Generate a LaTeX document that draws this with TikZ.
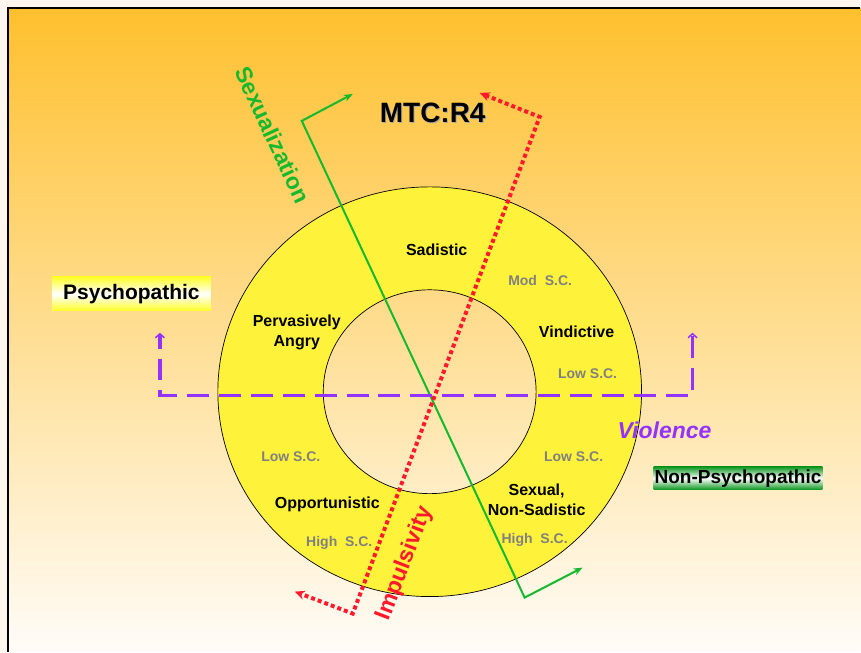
\documentclass[tikz,border=0pt]{standalone}
\usepackage{fontspec}
\setmainfont{Liberation Sans}
\usetikzlibrary{positioning,arrows.meta}

\definecolor{pagebg}{RGB}{253,245,238}
\definecolor{bgtop}{RGB}{255,192,46}
\definecolor{bgbot}{RGB}{255,252,248}
\definecolor{ringyellow}{RGB}{255,242,58}
\definecolor{boxyellow}{RGB}{255,255,40}
\definecolor{boxgreen}{RGB}{10,150,30}
\definecolor{sexgreen}{RGB}{20,185,45}
\definecolor{impred}{RGB}{255,25,45}
\definecolor{violet}{RGB}{150,50,255}
\definecolor{scgray}{RGB}{128,128,128}

\begin{document}
\begin{tikzpicture}[x=1pt, y=-1pt,
  lbl/.style={font=\bfseries\fontsize{16}{20}\selectfont, align=center, inner sep=0pt},
  sc/.style={font=\bfseries\fontsize{14}{16}\selectfont, text=scgray, inner sep=0pt},
  tag/.style={font=\bfseries\fontsize{21}{24}\selectfont, inner sep=0pt},
  axlbl/.style={font=\bfseries\fontsize{23}{25}\selectfont, inner sep=0pt}]

% slide
\fill[pagebg] (0,0) rectangle (861,652);
\shade[top color=bgtop, bottom color=bgbot] (8,8) rectangle (861,652);
\draw[line width=1.2pt] (8,652) -- (8,8) -- (861,8);

% ring
\coordinate (o) at (430,392);
\fill[ringyellow, even odd rule] (o) ellipse [x radius=212pt, y radius=205pt]
  (o) ellipse [x radius=106.5pt, y radius=102pt];
\draw[line width=0.7pt] (o) ellipse [x radius=212pt, y radius=205pt];
\draw[line width=0.7pt] (o) ellipse [x radius=106.5pt, y radius=102pt];

% axes
\coordinate (sxa) at (353,94);
\coordinate (sxb) at (302,121);
\coordinate (sxc) at (525,598);
\coordinate (sxd) at (583,568);
\coordinate (ima) at (480,93);
\coordinate (imb) at (540,117);
\coordinate (imc) at (353,614);
\coordinate (imd) at (295,592);
\coordinate (via) at (160,333);
\coordinate (vib) at (160,396);
\coordinate (vic) at (693,396);
\coordinate (vid) at (693,333);

\draw[sexgreen, line width=2pt, {Stealth[length=9pt,width=7pt]}-{Stealth[length=9pt,width=7pt]}]
  (sxa) -- (sxb) -- (sxc) -- (sxd);
\draw[impred, line width=4pt, dash pattern=on 4pt off 3pt,
  {Stealth[length=10pt,width=9pt]}-{Stealth[length=10pt,width=9pt]}]
  (ima) -- (imb) -- (imc) -- (imd);
\draw[violet, line width=3.5pt, dash pattern=on 22pt off 10pt, dash phase=8pt,
  {Straight Barb[length=4pt,width=9pt,line width=1.5pt]}-{Straight Barb[length=4pt,width=9pt,line width=1.5pt]}]
  (via) -- (vib) -- (vic) -- (vid);

% labels
\node[font=\bfseries\fontsize{28}{30}\selectfont, text=black!35, inner sep=0pt] at (434,114) (ttlsh) {MTC:R4};
\node[font=\bfseries\fontsize{28}{30}\selectfont, inner sep=0pt] at (433,113) (ttl) {MTC:R4};

\node[axlbl, text=sexgreen, rotate=-65] at (273,135) (sexl) {Sexualization};
\node[axlbl, text=impred, rotate=69] at (405,564) (impl) {Impulsivity};
\node[axlbl, font=\bfseries\itshape\fontsize{23}{26}\selectfont, text=violet] at (665,431) (viol) {Violence};

\node[tag, minimum width=159pt, minimum height=34pt,
  top color=boxyellow, bottom color=boxyellow, middle color=white] at (131.5,294) (psy) {Psychopathic};
\node[tag, font=\bfseries\fontsize{19}{22}\selectfont, minimum width=169pt, minimum height=23pt,
  top color=boxgreen, bottom color=boxgreen, middle color=white] at (738.5,478.5) (npsy) {Non-Psychopathic};

\node[lbl] at (437,250) (sad) {Sadistic};
\node[sc] at (540.5,281) (scsad) {Mod\ \ S.C.};
\node[lbl] at (297,333) (ang) {Pervasively\\Angry};
\node[lbl] at (577,332) (vin) {Vindictive};
\node[sc] at (588,374) (scvin) {Low S.C.};
\node[sc] at (291,457) (scang) {Low S.C.};
\node[sc] at (574,457) (scsns) {Low S.C.};
\node[lbl] at (327.5,505) (opp) {Opportunistic};
\node[lbl] at (537,500) (sns) {Sexual,\\Non-Sadistic};
\node[sc] at (339.5,543) (scopp) {High\ \ S.C.};
\node[sc] at (535,540) (scsns2) {High\ \ S.C.};

\end{tikzpicture}
\end{document}
